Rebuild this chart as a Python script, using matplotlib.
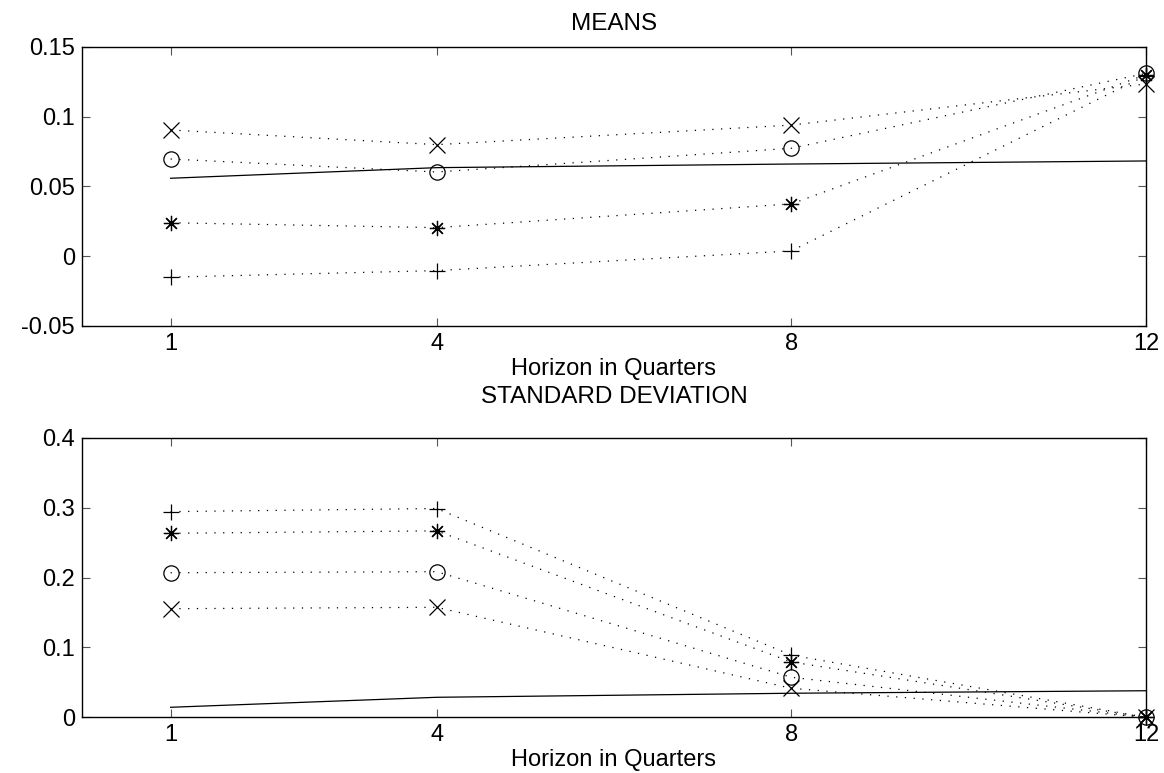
import numpy as np
import matplotlib.pyplot as plt

plt.rcParams['font.family'] = ['Liberation Sans', 'DejaVu Sans']
plt.rcParams['font.size'] = 17

horizons = [1, 4, 8, 12]
xticks = [1, 4, 8, 12]

# means by horizon
mean_x = [0.0905, 0.080, 0.094, 0.1235]
mean_o = [0.0697, 0.0604, 0.0774, 0.1311]
mean_star = [0.024, 0.0205, 0.0375, 0.1302]
mean_plus = [-0.015, -0.0103, 0.0038, 0.1295]
mean_line = [0.0559, 0.0635, 0.0661, 0.0683]

# standard deviations by horizon
sd_x = [0.1555, 0.1575, 0.0415, 0.0]
sd_o = [0.207, 0.2085, 0.0573, 0.0]
sd_star = [0.2635, 0.267, 0.0792, 0.0]
sd_plus = [0.2945, 0.299, 0.089, 0.0]
sd_line = [0.0143, 0.0286, 0.0344, 0.038]

star = (8, 2, 0)
dot_style = dict(color='black', linestyle=(0, (1, 6)), linewidth=0.9,
                 markersize=11, markeredgewidth=0.9, markerfacecolor='none',
                 markeredgecolor='black')


def draw_panel(ax, series, line, ylim, yticks, yticklabels, title, title_pad):
    for vals, marker in series:
        ax.plot(horizons, vals, marker=marker, clip_on=False, **dot_style)
    ax.plot(horizons, line, color='black', linewidth=0.9)
    ax.set_xlim(0, 12)
    ax.set_ylim(*ylim)
    ax.set_xticks(xticks)
    ax.set_yticks(yticks)
    ax.set_yticklabels(yticklabels)
    ax.tick_params(direction='in', length=6, width=0.8, color='#555555',
                   top=True, right=True, pad=5)
    ax.set_xlabel('Horizon in Quarters', labelpad=2)
    ax.set_title(title, fontsize=17.5, pad=title_pad)
    for s in ax.spines.values():
        s.set_linewidth(1.0)


fig = plt.figure(figsize=(11.64, 7.73), dpi=100)
ax1 = fig.add_axes([0.0704, 0.5783, 0.9141, 0.3609])
ax2 = fig.add_axes([0.0704, 0.0721, 0.9141, 0.3613])

draw_panel(ax1,
           [(mean_x, 'x'), (mean_o, 'o'), (mean_star, star), (mean_plus, '+')],
           mean_line, (-0.05, 0.15),
           [-0.05, 0, 0.05, 0.1, 0.15], ['-0.05', '0', '0.05', '0.1', '0.15'],
           'MEANS', 12)
draw_panel(ax2,
           [(sd_x, 'x'), (sd_o, 'o'), (sd_star, star), (sd_plus, '+')],
           sd_line, (0, 0.4),
           [0, 0.1, 0.2, 0.3, 0.4], ['0', '0.1', '0.2', '0.3', '0.4'],
           'STANDARD DEVIATION', 25)

fig.savefig('out.png', dpi=100)
